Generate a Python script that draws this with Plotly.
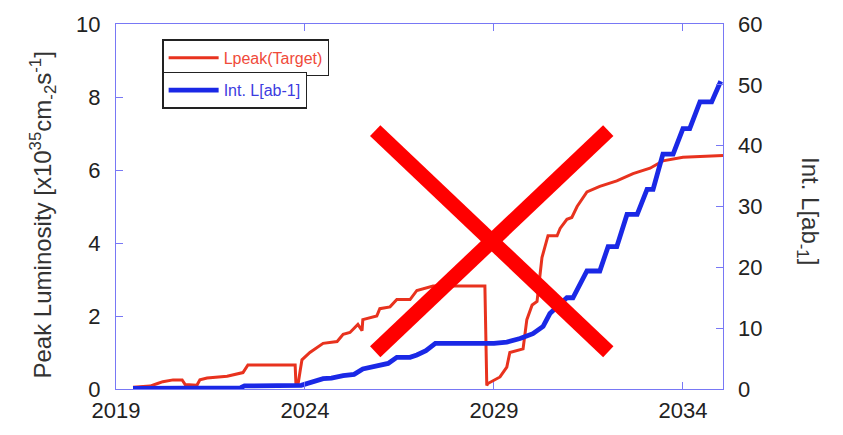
import plotly.graph_objects as go

# ---- data ----
red_year = [2019.45, 2019.9, 2020.1, 2020.24, 2020.51, 2020.75, 2020.83, 2021.14, 2021.22, 2021.41,
            2021.94, 2022.2, 2022.36, 2022.49, 2023.74, 2023.76, 2023.82, 2023.88, 2023.92, 2024.13,
            2024.48, 2024.85, 2025.01, 2025.19, 2025.40, 2025.51, 2025.53, 2025.90, 2025.98, 2026.25,
            2026.43, 2026.78, 2026.96, 2027.39, 2028.76, 2028.81, 2028.84, 2029.16, 2029.34, 2029.42,
            2029.77, 2029.87, 2030.01, 2030.14, 2030.27, 2030.43, 2030.67, 2030.75, 2030.93, 2031.06,
            2031.20, 2031.46, 2031.80, 2032.25, 2032.68, 2033.13, 2033.47, 2034.0, 2035.06]
red_lpeak = [0.05, 0.08, 0.15, 0.2, 0.25, 0.25, 0.12, 0.1, 0.25, 0.3,
             0.35, 0.4, 0.45, 0.66, 0.66, 0.15, 0.15, 0.55, 0.8, 1.0,
             1.25, 1.3, 1.5, 1.55, 1.77, 1.6, 1.9, 2.0, 2.2, 2.25,
             2.45, 2.45, 2.7, 2.82, 2.82, 0.1, 0.15, 0.33, 0.6, 1.0,
             1.1, 1.9, 2.3, 2.4, 3.6, 4.2, 4.2, 4.4, 4.65, 4.7,
             5.0, 5.4, 5.55, 5.7, 5.9, 6.05, 6.25, 6.35, 6.4]

blue_year = [2019.45, 2022.3, 2022.4, 2023.9, 2024.48, 2024.7, 2025.01, 2025.3, 2025.53, 2025.98,
             2026.2, 2026.43, 2026.78, 2026.96, 2027.2, 2027.45, 2029.0, 2029.34, 2029.69, 2030.03,
             2030.3, 2030.48, 2030.93, 2031.09, 2031.46, 2031.80, 2032.02, 2032.25, 2032.52, 2032.79,
             2033.05, 2033.21, 2033.47, 2033.74, 2034.0, 2034.18, 2034.45, 2034.76, 2035.0]
blue_intl = [0.1, 0.2, 0.5, 0.6, 1.7, 1.8, 2.2, 2.4, 3.3, 3.8,
             4.2, 5.2, 5.2, 5.6, 6.3, 7.5, 7.5, 7.7, 8.3, 9.1,
             10.3, 12.4, 15.0, 15.0, 19.4, 19.4, 23.4, 23.4, 28.7, 28.7,
             32.8, 32.8, 38.6, 38.6, 42.8, 42.8, 47.2, 47.2, 50.6]

x_ticks = [2019, 2024, 2029, 2034]
y_left_ticks = [0, 2, 4, 6, 8, 10]
y_right_ticks = [0, 10, 20, 30, 40, 50, 60]

AXIS = "#7878f5"
FAMILY = "Liberation Sans, Arial, sans-serif"
TICKFONT = dict(family=FAMILY, size=22, color="#222222")
TITLEFONT = dict(family=FAMILY, size=24, color="#333333")

fig = go.Figure()
fig.add_trace(go.Scatter(x=red_year, y=red_lpeak, mode="lines", name="Lpeak(Target)",
                         line=dict(color="#e8321e", width=3), legend="legend"))
fig.add_trace(go.Scatter(x=blue_year, y=blue_intl, mode="lines", name="Int. L[ab-1]",
                         line=dict(color="#1a28e6", width=4.8), yaxis="y2", legend="legend2"))

fig.update_layout(
    width=843, height=435,
    margin=dict(l=116, r=120, t=23, b=29),
    paper_bgcolor="white", plot_bgcolor="white",
    xaxis=dict(range=[2019, 2035.06], tickvals=x_ticks, ticktext=[str(v) for v in x_ticks],
               showgrid=False, zeroline=False, showline=True, linecolor=AXIS, linewidth=1,
               mirror="ticks", ticks="inside", ticklen=7, tickcolor=AXIS, tickfont=TICKFONT,
               ticklabelstandoff=2),
    yaxis=dict(range=[0, 10], tickvals=y_left_ticks, showgrid=False, zeroline=False,
               showline=True, linecolor=AXIS, linewidth=1, mirror=True,
               ticks="inside", ticklen=7, tickcolor=AXIS, tickfont=TICKFONT,
               ticklabelstandoff=10),
    yaxis2=dict(range=[0, 60], tickvals=y_right_ticks, overlaying="y", side="right",
                showgrid=False, zeroline=False, showline=False,
                ticks="inside", ticklen=7, tickcolor=AXIS, tickfont=TICKFONT,
                ticklabelstandoff=14),
    legend=dict(x=0.076, y=0.958, xanchor="left", yanchor="top", bgcolor="white",
                bordercolor="#222222", borderwidth=1.5, itemwidth=50,
                font=dict(family=FAMILY, size=16, color="#f04a3a")),
    legend2=dict(x=0.076, y=0.869, xanchor="left", yanchor="top", bgcolor="white",
                 bordercolor="#222222", borderwidth=1.5, itemwidth=50,
                 font=dict(family=FAMILY, size=16, color="#3c3ce0")),
    showlegend=True,
)

fig.add_annotation(text="Peak Luminosity [x10<sup>35</sup>cm<sub>-2</sub>s<sup>-1</sup>]",
                   xref="paper", yref="paper", x=0, y=0.5, xshift=-74, yshift=-9,
                   xanchor="center", yanchor="middle", textangle=-90, showarrow=False,
                   font=TITLEFONT)
fig.add_annotation(text="Int. L[ab<sub>-1</sub>]",
                   xref="paper", yref="paper", x=1, y=0.504, xshift=86, yshift=-6,
                   xanchor="center", yanchor="middle", textangle=90, showarrow=False,
                   font=TITLEFONT)

# big red cross overlay
for (x0, y0, x1, y1) in [(0.427, 0.708, 0.811, 0.102), (0.811, 0.708, 0.427, 0.102)]:
    fig.add_shape(type="line", xref="paper", yref="paper", x0=x0, y0=y0, x1=x1, y1=y1,
                  line=dict(color="#ff0000", width=15), layer="above")

fig.write_html("out.html")
